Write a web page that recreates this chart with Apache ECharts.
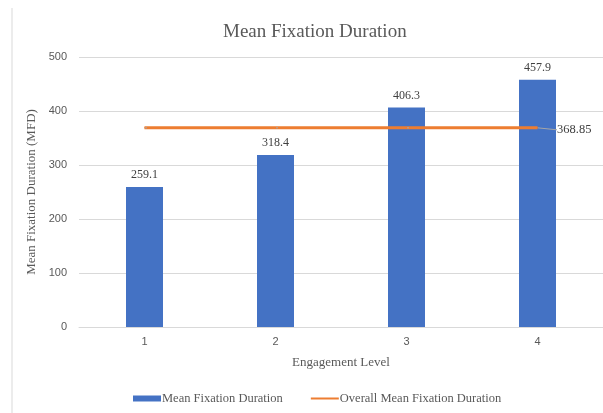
<!DOCTYPE html>
<html>
<head>
<meta charset="utf-8">
<script src="https://cdn.jsdelivr.net/npm/echarts@6/dist/echarts.min.js"></script>
<style>
  html, body { margin: 0; padding: 0; background: #fff; }
  #chart { width: 603px; height: 413px; }
</style>
</head>
<body>
<div id="chart"></div>
<script>
// Engagement levels on the x axis
const levels = ['1', '2', '3', '4'];
// Mean fixation duration per engagement level
const meanFixation = [259.1, 318.4, 406.3, 457.9];
// Overall mean across all levels, drawn as a flat reference line
const overallMean = [368.85, 368.85, 368.85, 368.85];
// Value axis ticks
const yTicks = [0, 100, 200, 300, 400, 500];

const serif = '"Liberation Serif", "DejaVu Serif", serif';
const sans = '"Liberation Sans", Arial, sans-serif';
const lastIdx = overallMean.length - 1;

const chart = echarts.init(document.getElementById('chart'), null, { renderer: 'canvas' });

chart.setOption({
  animation: false,
  backgroundColor: '#ffffff',
  title: {
    text: 'Mean Fixation Duration',
    left: 218,
    top: 18,
    textStyle: { fontFamily: serif, fontSize: 19, fontWeight: 'normal', color: '#595959' }
  },
  graphic: [{
    type: 'line',
    shape: { x1: 12, y1: 8, x2: 12, y2: 413 },
    style: { stroke: '#D9D9D9', lineWidth: 1 },
    silent: true
  }],
  legend: {
    bottom: 3,
    left: 128,
    itemGap: 27,
    itemWidth: 28,
    itemHeight: 6,
    textStyle: { fontFamily: serif, fontSize: 12.5, color: '#595959', padding: [0, 0, 0, -4] },
    data: [
      { name: 'Mean Fixation Duration', icon: 'rect' },
      { name: 'Overall Mean Fixation Duration', itemStyle: { opacity: 0 } }
    ]
  },
  grid: { left: 79, right: 0, top: 57, bottom: 86, containLabel: false },
  xAxis: {
    type: 'category',
    data: levels,
    name: 'Engagement Level',
    nameLocation: 'middle',
    nameGap: 29,
    nameTextStyle: { fontFamily: serif, fontSize: 13, color: '#595959' },
    axisLine: { lineStyle: { color: '#D9D9D9', width: 1 } },
    axisTick: { show: false },
    axisLabel: { fontFamily: sans, fontSize: 11, color: '#595959', margin: 9 }
  },
  yAxis: {
    type: 'value',
    min: yTicks[0],
    max: yTicks[yTicks.length - 1],
    interval: yTicks[1] - yTicks[0],
    name: 'Mean Fixation Duration (MFD)',
    nameLocation: 'middle',
    nameGap: 41,
    nameTextStyle: { fontFamily: serif, fontSize: 13, color: '#595959' },
    axisLine: { show: false },
    axisTick: { show: false },
    axisLabel: { fontFamily: sans, fontSize: 11, color: '#595959', margin: 12 },
    splitLine: { lineStyle: { color: '#D9D9D9', width: 1 } }
  },
  series: [
    {
      name: 'Mean Fixation Duration',
      type: 'bar',
      data: meanFixation,
      barWidth: 37,
      itemStyle: { color: '#4472C4' },
      label: {
        show: true,
        position: 'top',
        distance: 6,
        fontFamily: serif,
        fontSize: 12,
        color: '#404040',
        formatter: p => p.value.toFixed(1)
      }
    },
    {
      name: 'Overall Mean Fixation Duration',
      type: 'line',
      data: overallMean,
      symbol: 'circle',
      symbolSize: 1,
      showSymbol: true,
      lineStyle: { color: '#ED7D31', width: 3 },
      itemStyle: { color: '#ED7D31' },
      z: 5,
      label: {
        show: true,
        position: 'right',
        distance: 2,
        fontFamily: serif,
        fontSize: 12.5,
        color: '#404040',
        formatter: p => (p.dataIndex === lastIdx ? String(p.value) : '')
      },
      labelLayout: p => (p.dataIndex === lastIdx ? { dx: 17, dy: 2 } : {}),
      labelLine: { show: true, smooth: 0.3, lineStyle: { color: '#A6A6A6', width: 1 } }
    }
  ]
});
</script>
</body>
</html>
